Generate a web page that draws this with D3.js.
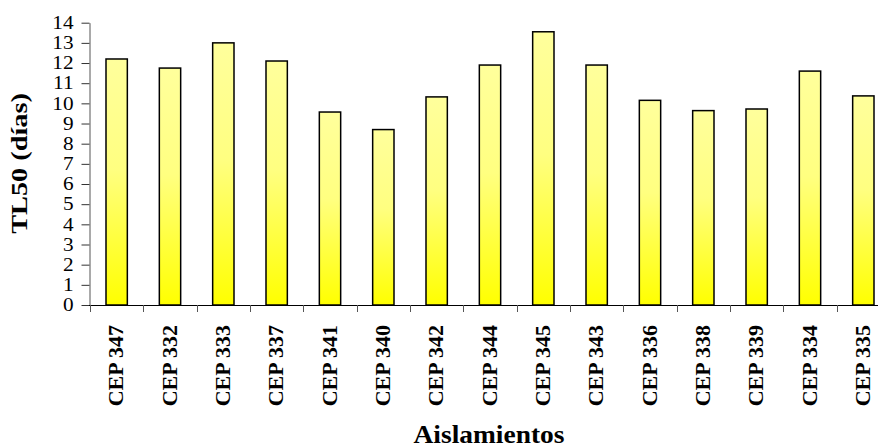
<!DOCTYPE html>
<html>
<head>
<meta charset="utf-8">
<script src="https://cdn.jsdelivr.net/npm/d3@7"></script>
<style>
  html, body { margin: 0; padding: 0; background: #fff; }
  svg { display: block; }
  svg text { font-family: "Liberation Serif"; }
</style>
</head>
<body>
<svg id="chart" width="878" height="448"></svg>
<script>
// TL50 per isolate
const isolates = ["CEP 347", "CEP 332", "CEP 333", "CEP 337", "CEP 341", "CEP 340", "CEP 342",
                  "CEP 344", "CEP 345", "CEP 343", "CEP 336", "CEP 338", "CEP 339", "CEP 334", "CEP 335"];
const tl50 = [12.2, 11.75, 13.0, 12.1, 9.57, 8.7, 10.32, 11.9, 13.55, 11.9, 10.15, 9.64, 9.72, 11.6, 10.37];
const yTicks = [0, 1, 2, 3, 4, 5, 6, 7, 8, 9, 10, 11, 12, 13, 14];

const svg = d3.select("#chart");
const serif = "Liberation Serif";

// widen a text element along its reading direction
function stretch(sel, factor) {
  sel.each(function () {
    const len = this.getComputedTextLength();
    d3.select(this).attr("textLength", len * factor).attr("lengthAdjust", "spacingAndGlyphs");
  });
}

const x = d3.scaleBand().domain(isolates).range([90, 890]).paddingInner(0.6).paddingOuter(0.3);
const xEdges = d3.scaleBand().domain(isolates).range([90, 890]).padding(0);
const y = d3.scaleLinear().domain([0, 14]).range([305, 22.7]);

// vertical gradient: pale yellow at the top of each bar, saturated yellow at the base
const grad = svg.append("defs").append("linearGradient")
  .attr("id", "barFill").attr("x1", 0).attr("y1", 0).attr("x2", 0).attr("y2", 1);
grad.append("stop").attr("offset", "0%").attr("stop-color", "#ffff9c");
grad.append("stop").attr("offset", "45%").attr("stop-color", "#ffff80");
grad.append("stop").attr("offset", "100%").attr("stop-color", "#ffff00");

// bars
svg.append("g").selectAll("rect").data(isolates).join("rect")
  .attr("x", d => x(d))
  .attr("y", (d, i) => y(tl50[i]))
  .attr("width", x.bandwidth())
  .attr("height", (d, i) => y(0) - y(tl50[i]))
  .attr("fill", "url(#barFill)")
  .attr("stroke", "#000")
  .attr("stroke-width", 1.5);

// y axis
const yAxis = svg.append("g").attr("transform", "translate(89.5,0)")
  .call(d3.axisLeft(y).tickValues(yTicks).tickSize(8).tickSizeOuter(0).tickFormat(d3.format("d")));
yAxis.attr("font-family", null);
yAxis.select(".domain").attr("stroke", "#555");
yAxis.selectAll(".tick line").attr("stroke", "#333");
yAxis.selectAll(".tick text")
  .style("font-family", serif).style("font-size", "18px").attr("fill", "#000")
  .attr("x", -16)
  .call(stretch, 1.18);

// x axis: baseline with ticks at band edges
svg.append("line").attr("x1", 89).attr("x2", 878).attr("y1", 305.5).attr("y2", 305.5)
  .attr("stroke", "#000").attr("stroke-width", 1.2);
svg.append("g").selectAll("line").data(isolates).join("line")
  .attr("x1", d => Math.round(xEdges(d)) + 0.5).attr("x2", d => Math.round(xEdges(d)) + 0.5)
  .attr("y1", 305).attr("y2", 312)
  .attr("stroke", "#555");

// rotated category labels
svg.append("g").selectAll("text").data(isolates).join("text")
  .attr("transform", d => `translate(${x(d) + x.bandwidth() / 2 + 6.5},325) rotate(-90)`)
  .attr("text-anchor", "end")
  .style("font-family", serif).style("font-weight", "bold").style("font-size", "20px")
  .text(d => d)
  .call(stretch, 1.1);

// axis titles
svg.append("text")
  .attr("transform", "translate(27,163.5) rotate(-90)")
  .attr("text-anchor", "middle")
  .style("font-family", serif).style("font-weight", "bold").style("font-size", "23px")
  .text("TL50 (días)")
  .call(stretch, 1.23);

svg.append("text")
  .attr("x", 489).attr("y", 442.5)
  .attr("text-anchor", "middle")
  .style("font-family", serif).style("font-weight", "bold").style("font-size", "24.5px")
  .text("Aislamientos")
  .call(stretch, 1.12);
</script>
</body>
</html>
